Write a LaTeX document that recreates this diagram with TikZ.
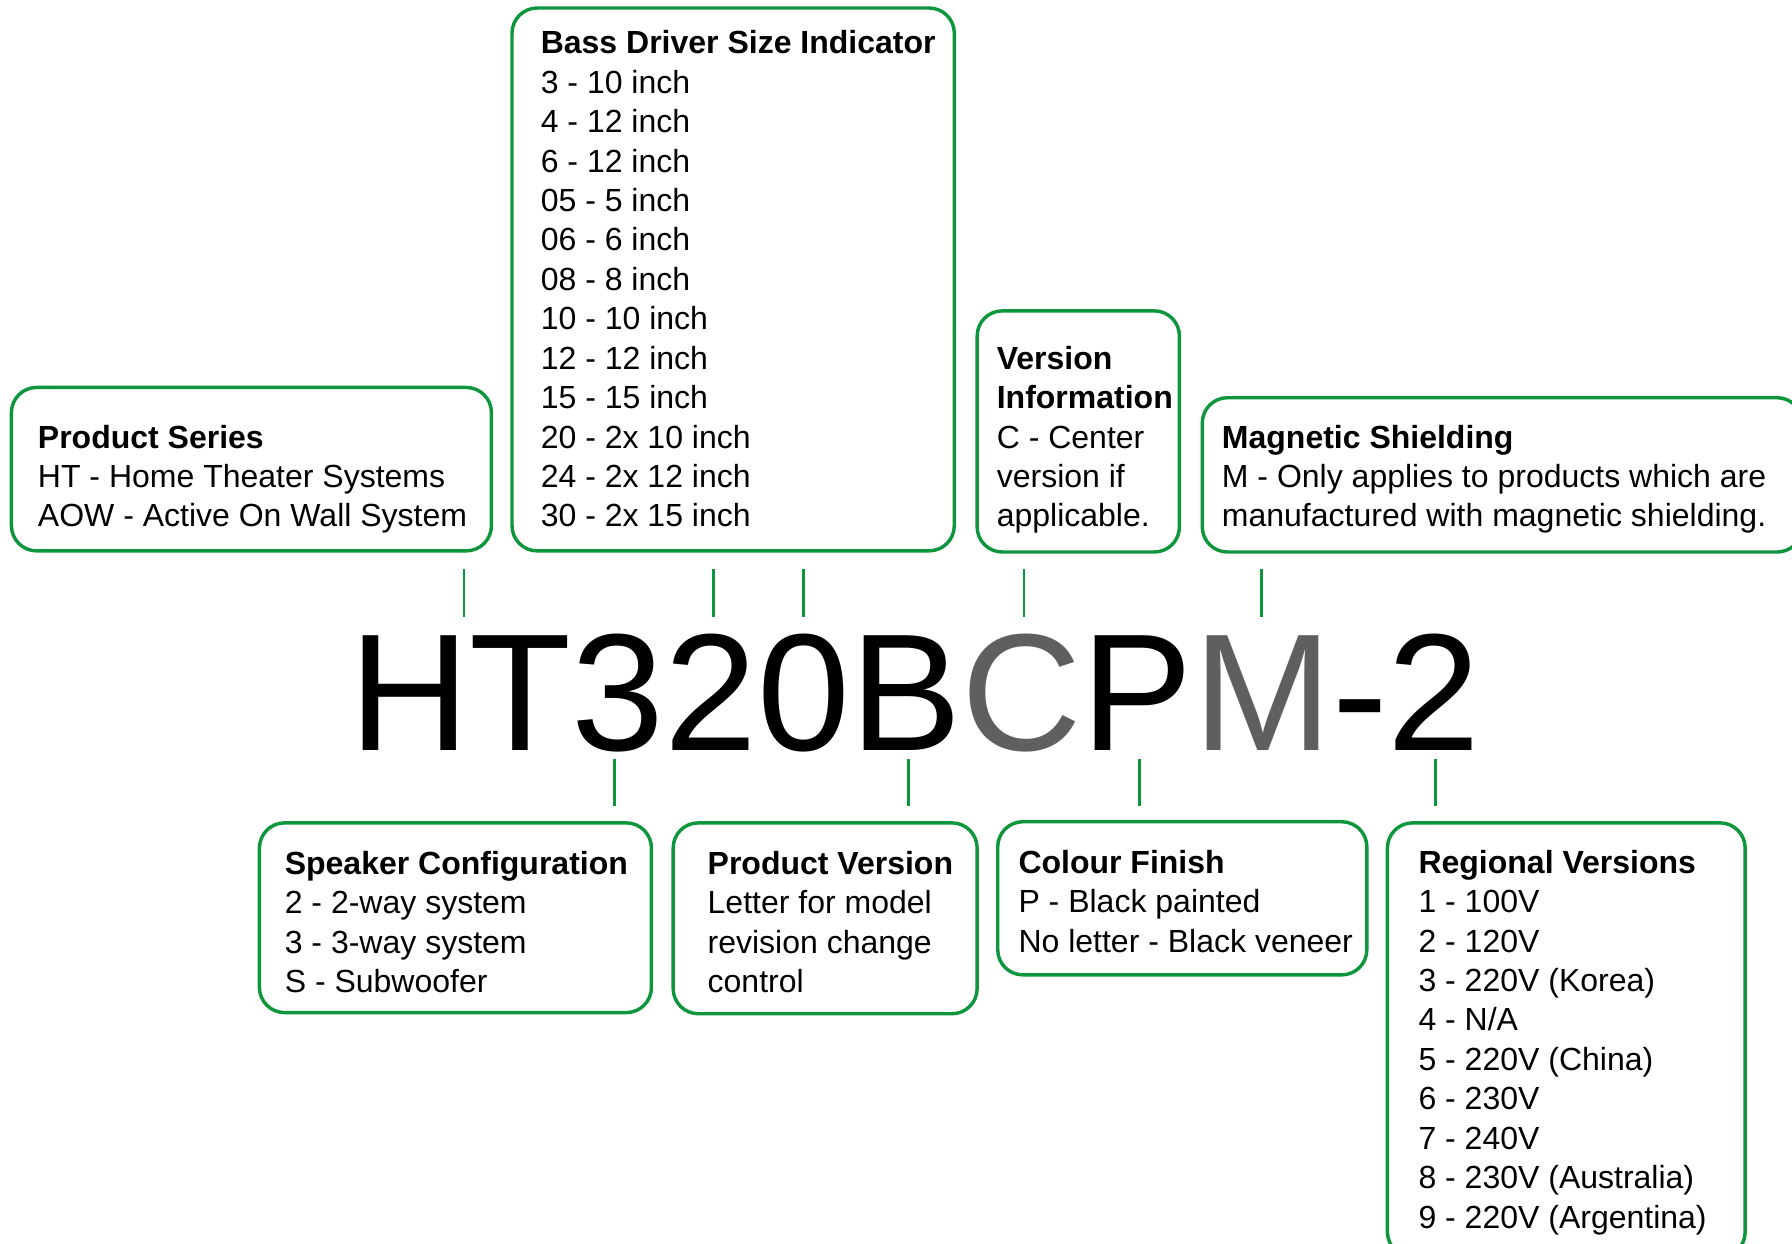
\documentclass[tikz,border=0pt]{standalone}
\usepackage{fontspec}
\setmainfont{Liberation Sans}
\definecolor{boxgreen}{RGB}{14,150,60}
\definecolor{codegray}{RGB}{95,95,95}
\begin{document}
\begin{tikzpicture}[x=1pt,y=-1pt,
  box/.style={draw=boxgreen, line width=3pt, rounded corners=22pt, anchor=north west, inner sep=0pt, outer sep=0pt},
  txt/.style={anchor=base west, inner sep=0pt, font=\fontsize{28}{34.5}\selectfont},
  tick/.style={draw=boxgreen, line width=2.5pt}]
\path[use as bounding box] (0,0) rectangle (1568,1088);
\fill[white] (0,0) rectangle (1568,1088);
\clip (0,0) rectangle (1568,1088);

% boxes
\node[box, minimum width=420pt, minimum height=143pt] (bps) at (10,339) {};
\node[box, minimum width=387pt, minimum height=475pt] (bbass) at (448,7) {};
\node[box, minimum width=177pt, minimum height=211pt] (bver) at (855,272) {};
\node[box, minimum width=525pt, minimum height=135pt] (bmag) at (1052,348) {};
\node[box, minimum width=343pt, minimum height=166pt] (bspk) at (227,720) {};
\node[box, minimum width=266pt, minimum height=167pt] (bpv) at (589,720) {};
\node[box, minimum width=323pt, minimum height=134pt] (bcol) at (873,719) {};
\node[box, minimum width=313pt, minimum height=380pt] (breg) at (1214,720) {};

% texts
\node[txt] (tps) at (33,392) {\begin{tabular}[t]{@{}l@{}}\textbf{Product Series}\\HT - Home Theater Systems\\AOW - Active On Wall System\end{tabular}};
\node[txt] (tbass) at (473,47) {\begin{tabular}[t]{@{}l@{}}\textbf{Bass Driver Size Indicator}\\3 - 10 inch\\4 - 12 inch\\6 - 12 inch\\05 - 5 inch\\06 - 6 inch\\08 - 8 inch\\10 - 10 inch\\12 - 12 inch\\15 - 15 inch\\20 - 2x 10 inch\\24 - 2x 12 inch\\30 - 2x 15 inch\end{tabular}};
\node[txt] (tver) at (872,323) {\begin{tabular}[t]{@{}l@{}}\textbf{Version}\\\textbf{Information}\\C - Center\\version if\\applicable.\end{tabular}};
\node[txt] (tmag) at (1069,392) {\begin{tabular}[t]{@{}l@{}}\textbf{Magnetic Shielding}\\M - Only applies to products which are\\manufactured with magnetic shielding.\end{tabular}};
\node[txt] (tspk) at (249,765) {\begin{tabular}[t]{@{}l@{}}\textbf{Speaker Configuration}\\2 - 2-way system\\3 - 3-way system\\S - Subwoofer\end{tabular}};
\node[txt] (tpv) at (619,765) {\begin{tabular}[t]{@{}l@{}}\textbf{Product Version}\\Letter for model\\revision change\\control\end{tabular}};
\node[txt] (tcol) at (891,764) {\begin{tabular}[t]{@{}l@{}}\textbf{Colour Finish}\\P - Black painted\\No letter - Black veneer\end{tabular}};
\node[txt] (treg) at (1241,764) {\begin{tabular}[t]{@{}l@{}}\textbf{Regional Versions}\\1 - 100V\\2 - 120V\\3 - 220V (Korea)\\4 - N/A\\5 - 220V (China)\\6 - 230V\\7 - 240V\\8 - 230V (Australia)\\9 - 220V (Argentina)\end{tabular}};

% code
\node[anchor=base west, inner sep=0pt, font=\fontsize{146}{146}\selectfont] (code) at (305.5,657) {HT320B\textcolor{codegray}{C}P\textcolor{codegray}{M}-2};

% ticks above
\foreach \x [count=\i] in {406,624,703,896,1104} {
  \coordinate (ua\i) at (\x,498);
  \coordinate (ub\i) at (\x,540);
  \draw[tick] (ua\i) -- (ub\i);
}
% ticks below
\foreach \x [count=\i] in {538,795,997,1256} {
  \coordinate (la\i) at (\x,664);
  \coordinate (lb\i) at (\x,705);
  \draw[tick] (la\i) -- (lb\i);
}
\end{tikzpicture}
\end{document}
